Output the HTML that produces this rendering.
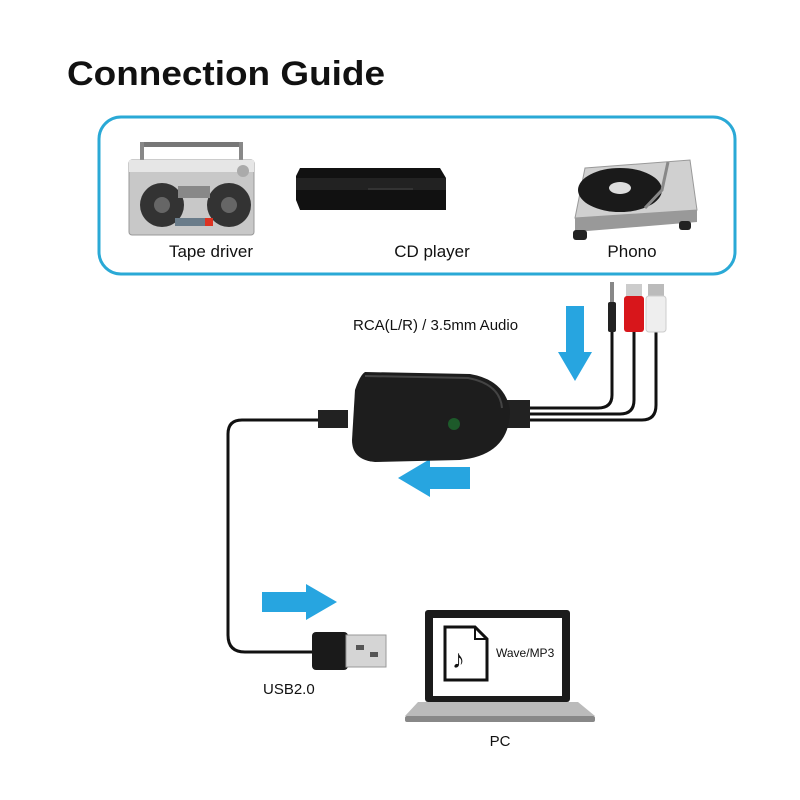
<!DOCTYPE html>
<html><head><meta charset="utf-8"><style>
html,body{margin:0;padding:0;background:#fff;}
svg{display:block;font-family:"Liberation Sans",sans-serif;}
</style></head><body>
<svg width="800" height="800" viewBox="0 0 800 800" xmlns="http://www.w3.org/2000/svg">
<text x="67" y="85" font-size="34" font-weight="bold" fill="#111" textLength="318" lengthAdjust="spacingAndGlyphs">Connection Guide</text>
<rect x="99" y="117" width="636" height="157" rx="22" fill="#fff" stroke="#2aa9d6" stroke-width="3"/>
<!-- boombox -->
<rect x="140" y="142" width="103" height="5" fill="#777"/>
<rect x="140" y="142" width="4" height="20" fill="#888"/><rect x="239" y="142" width="4" height="20" fill="#888"/>
<rect x="129" y="160" width="125" height="75" rx="3" fill="#c8c8c8" stroke="#999"/>
<rect x="129" y="160" width="125" height="12" fill="#e6e6e6"/>
<circle cx="243" cy="171" r="6" fill="#aaa"/>
<circle cx="162" cy="205" r="22" fill="#333"/><circle cx="162" cy="205" r="8" fill="#666"/>
<circle cx="229" cy="205" r="22" fill="#333"/><circle cx="229" cy="205" r="8" fill="#666"/>
<rect x="178" y="186" width="32" height="12" fill="#888"/>
<rect x="175" y="218" width="38" height="8" fill="#6a7c8a"/><rect x="205" y="218" width="8" height="8" fill="#d32"/>
<text x="211" y="257" font-size="17" text-anchor="middle" fill="#111">Tape driver</text>
<!-- CD player -->
<path d="M300 168 L440 168 L446 178 L446 210 L300 210 L296 200 L296 176 Z" fill="#111"/>
<rect x="296" y="178" width="150" height="12" fill="#222"/>
<rect x="368" y="188" width="45" height="2" fill="#333"/>
<text x="432" y="257" font-size="17" text-anchor="middle" fill="#111">CD player</text>
<!-- turntable -->
<path d="M585 168 L690 160 L697 210 L575 218 Z" fill="#d0d0d0" stroke="#999"/>
<path d="M575 218 L697 210 L697 222 L575 232 Z" fill="#999"/>
<ellipse cx="620" cy="190" rx="42" ry="22" fill="#1a1a1a"/>
<ellipse cx="620" cy="188" rx="11" ry="6" fill="#ddd"/>
<path d="M668 162 L662 190 L645 208" stroke="#888" stroke-width="3" fill="none"/>
<rect x="573" y="230" width="14" height="10" rx="3" fill="#222"/><rect x="679" y="221" width="12" height="9" rx="3" fill="#222"/>
<text x="632" y="257" font-size="17" text-anchor="middle" fill="#111">Phono</text>
<!-- label -->
<text x="353" y="330" font-size="15" fill="#111">RCA(L/R) / 3.5mm Audio</text>
<!-- arrows -->
<path d="M566 306 H584 V352 H592 L575 381 L558 352 H566 Z" fill="#27a5e0"/>
<path d="M470 467 V489 H430 V497 L398 478 L430 459 V467 Z" fill="#27a5e0"/>
<path d="M262 592 V612 H306 V620 L337 602 L306 584 V592 Z" fill="#27a5e0"/>
<!-- cables -->
<path d="M612 320 V395 Q612 408 598 408 H510" stroke="#111" stroke-width="3" fill="none"/>
<path d="M634 330 V400 Q634 414 620 414 H510" stroke="#111" stroke-width="3" fill="none"/>
<path d="M656 330 V405 Q656 420 642 420 H510" stroke="#111" stroke-width="3" fill="none"/>
<path d="M330 420 H242 Q228 420 228 434 V635 Q228 652 245 652 H315" stroke="#111" stroke-width="3" fill="none"/>
<!-- plugs -->
<rect x="610" y="282" width="4" height="22" fill="#888"/><rect x="608" y="302" width="8" height="30" rx="2" fill="#222"/>
<rect x="626" y="284" width="16" height="14" fill="#ccc"/><rect x="624" y="296" width="20" height="36" rx="3" fill="#d8161b"/>
<rect x="648" y="284" width="16" height="14" fill="#bbb"/><rect x="646" y="296" width="20" height="36" rx="3" fill="#eee" stroke="#ccc"/>
<!-- converter -->
<rect x="318" y="410" width="30" height="18" fill="#222"/>
<rect x="495" y="400" width="35" height="28" fill="#222"/>
<path d="M365 372 Q360 375 355 390 L352 440 Q352 460 375 462 L460 460 Q510 455 510 410 Q505 380 470 374 Z" fill="#1d1d1d"/>
<path d="M365 376 L468 378 Q500 384 502 408" stroke="#444" stroke-width="2" fill="none"/>
<circle cx="454" cy="424" r="6" fill="#1d5a2a"/>
<!-- USB -->
<rect x="312" y="632" width="36" height="38" rx="4" fill="#1a1a1a"/>
<rect x="346" y="635" width="40" height="32" fill="#d5d5d5" stroke="#999"/>
<rect x="356" y="645" width="8" height="5" fill="#555"/><rect x="370" y="652" width="8" height="5" fill="#555"/>
<text x="263" y="694" font-size="15" fill="#111">USB2.0</text>
<!-- laptop -->
<rect x="425" y="610" width="145" height="92" rx="3" fill="#1b1b1b"/>
<rect x="433" y="618" width="129" height="78" fill="#fff"/>
<path d="M445 627 H475 L487 639 V680 H445 Z" fill="#fff" stroke="#111" stroke-width="3"/>
<path d="M475 627 V639 H487" fill="none" stroke="#111" stroke-width="2"/>
<text x="452" y="668" font-size="26" fill="#111">♪</text>
<text x="496" y="657" font-size="12" fill="#111">Wave/MP3</text>
<path d="M418 702 H578 L595 716 H405 Z" fill="#bbb"/>
<rect x="405" y="716" width="190" height="6" rx="2" fill="#888"/>
<text x="500" y="746" font-size="15" text-anchor="middle" fill="#111">PC</text>
</svg>
</body></html>
